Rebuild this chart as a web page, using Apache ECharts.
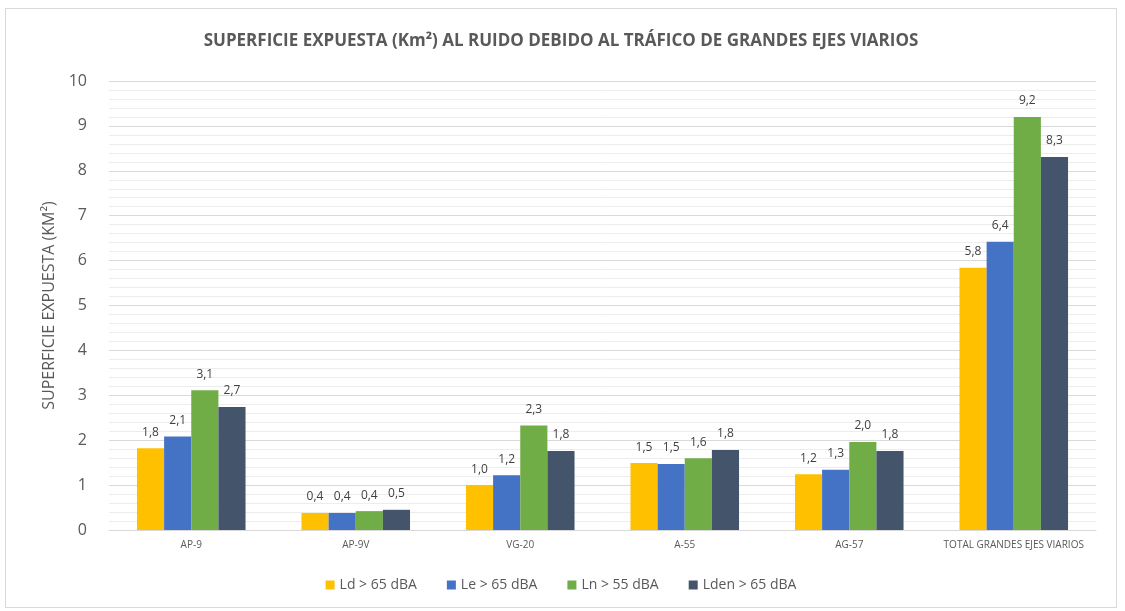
<!DOCTYPE html>
<html><head><meta charset="utf-8">
<script src="https://cdn.jsdelivr.net/npm/echarts@6/dist/echarts.min.js"></script>
<style>html,body{margin:0;padding:0;background:#fff}#c{position:absolute;left:5px;top:8px;width:1112px;height:600px;border:1px solid #d9d9d9;box-sizing:border-box}</style>
</head><body><div id="c"></div>
<script>
const categories = ['AP-9','AP-9V','VG-20','A-55','AG-57','TOTAL GRANDES EJES VIARIOS'];
const seriesNames = ['Ld > 65 dBA','Le > 65 dBA','Ln > 55 dBA','Lden > 65 dBA'];
const ld   = [1.82, 0.38, 1.00, 1.49, 1.24, 5.84];
const le   = [2.08, 0.38, 1.22, 1.47, 1.34, 6.42];
const ln   = [3.11, 0.42, 2.33, 1.60, 1.96, 9.20];
const lden = [2.74, 0.45, 1.76, 1.78, 1.76, 8.31];
const colors = ['#FFC000','#4472C4','#70AD47','#44546A'];
const FONT = "'Open Sans', 'Liberation Sans', sans-serif";
const chart = echarts.init(document.getElementById('c'));
const all = [ld, le, ln, lden];
chart.setOption({
  animation:false,
  textStyle:{fontFamily:FONT},
  title:{text:'SUPERFICIE EXPUESTA (Km²) AL RUIDO DEBIDO AL TRÁFICO DE GRANDES EJES VIARIOS',left:'center',top:19,
    textStyle:{fontSize:17,fontWeight:'bold',color:'#595959',fontFamily:FONT}},
  legend:{bottom:10,left:'center',itemWidth:9,itemHeight:9,itemGap:30,icon:'rect',
    textStyle:{fontSize:14,color:'#595959',fontFamily:FONT}},
  grid:{left:103,right:20,top:72,bottom:77},
  xAxis:{type:'category',data:categories,
    axisLine:{lineStyle:{color:'#d9d9d9'}},axisTick:{show:false},
    axisLabel:{fontSize:10,color:'#595959',margin:10,interval:0}},
  yAxis:{type:'value',min:0,max:10,interval:1,
    name:'SUPERFICIE EXPUESTA (KM²)',nameLocation:'middle',nameGap:42,nameRotate:90,
    nameTextStyle:{fontSize:16,color:'#595959'},
    axisLabel:{fontSize:16,color:'#595959',margin:22},
    axisLine:{show:false},axisTick:{show:false},
    splitLine:{lineStyle:{color:'#d9d9d9',width:1}},
    minorTick:{show:false,splitNumber:5},
    minorSplitLine:{show:true,lineStyle:{color:'#ededed',width:1}}},
  series: all.map((d,i)=>({
    name:seriesNames[i],type:'bar',data:d,barGap:'0%',barCategoryGap:'34%',
    itemStyle:{color:colors[i]},
    label:{show:true,position:'top',distance:10,fontSize:12,color:'#404040',
      formatter:p=>p.value.toFixed(1).replace('.',',')}
  }))
});
</script></body></html>
